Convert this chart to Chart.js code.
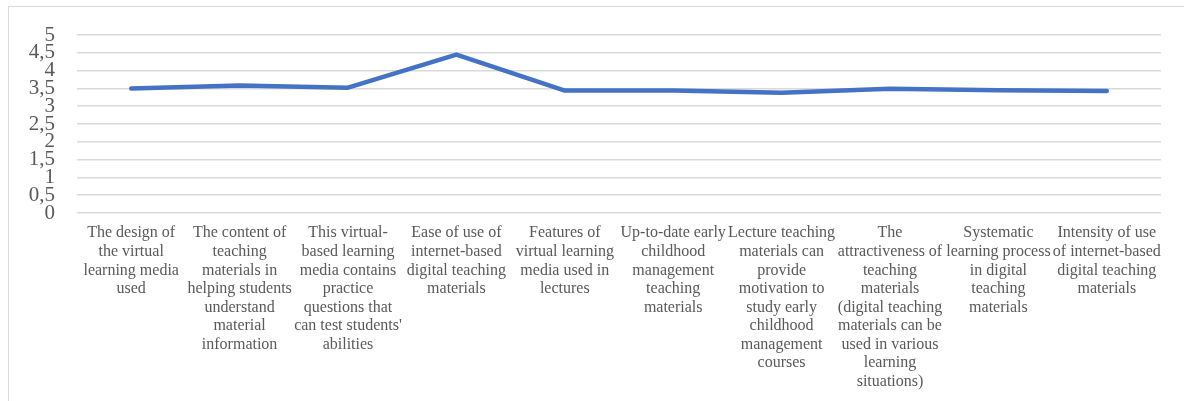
<!DOCTYPE html>
<html>
<head>
<meta charset="utf-8">
<script src="https://cdn.jsdelivr.net/npm/chart.js@4.4.1/dist/chart.umd.min.js"></script>
<style>
  html, body { margin: 0; padding: 0; background: #ffffff; overflow: hidden; }
  #frame { position: absolute; left: 8px; top: 6px; width: 1300px; height: 420px; border: 1.5px solid #d9d9d9; box-sizing: border-box; }
  #wrap { position: absolute; left: 0; top: 0; width: 1184px; height: 401px; }
</style>
</head>
<body>
<div id="frame"></div>
<div id="wrap"><canvas id="c" width="1184" height="401"></canvas></div>
<script>
const categories = [
  ["The design of", "the virtual", "learning media", "used"],
  ["The content of", "teaching", "materials in", "helping students", "understand", "material", "information"],
  ["This virtual-", "based learning", "media contains", "practice", "questions that", "can test students'", "abilities"],
  ["Ease of use of", "internet-based", "digital teaching", "materials"],
  ["Features of", "virtual learning", "media used in", "lectures"],
  ["Up-to-date early", "childhood", "management", "teaching", "materials"],
  ["Lecture teaching", "materials can", "provide", "motivation to", "study early", "childhood", "management", "courses"],
  ["The", "attractiveness of", "teaching", "materials", "(digital teaching", "materials can be", "used in various", "learning", "situations)"],
  ["Systematic", "learning process", "in digital", "teaching", "materials"],
  ["Intensity of use", "of internet-based", "digital teaching", "materials"]
];
const values = [3.50, 3.58, 3.52, 4.45, 3.44, 3.44, 3.38, 3.49, 3.45, 3.43];
const yMin = 0, yMax = 5, yStep = 0.5;

new Chart(document.getElementById('c'), {
  type: 'line',
  data: {
    labels: categories,
    datasets: [{
      data: values,
      borderColor: '#4472c4',
      borderWidth: 4.5,
      pointRadius: 0,
      pointHoverRadius: 0,
      tension: 0,
      borderCapStyle: 'round',
      borderJoinStyle: 'round',
      fill: false
    }]
  },
  options: {
    responsive: false,
    animation: false,
    events: [],
    layout: { padding: { left: 0, right: 23, top: 35, bottom: 0 } },
    plugins: { legend: { display: false }, tooltip: { enabled: false } },
    scales: {
      x: {
        offset: true,
        grid: { display: false, drawTicks: false, offset: true },
        border: { display: false },
        ticks: {
          autoSkip: false, maxRotation: 0, minRotation: 0, padding: 11,
          color: '#595959',
          font: { family: '"Liberation Serif", "Times New Roman", serif', size: 16, lineHeight: 1.16 }
        },
        afterFit: (s) => { s.height = 188; s.paddingLeft = 0; s.paddingRight = 0; }
      },
      y: {
        min: yMin, max: yMax,
        grid: { color: '#d9d9d9', lineWidth: 1.5, drawTicks: false },
        border: { display: false },
        ticks: {
          autoSkip: false, stepSize: yStep, padding: 22, color: '#595959',
          font: { family: '"Liberation Serif", "Times New Roman", serif', size: 21, lineHeight: 1 },
          callback: (v) => String(v).replace('.', ',')
        },
        afterFit: (s) => { s.width = 77; s.paddingTop = 0; s.paddingBottom = 0; }
      }
    }
  }
});
</script>
</body>
</html>
